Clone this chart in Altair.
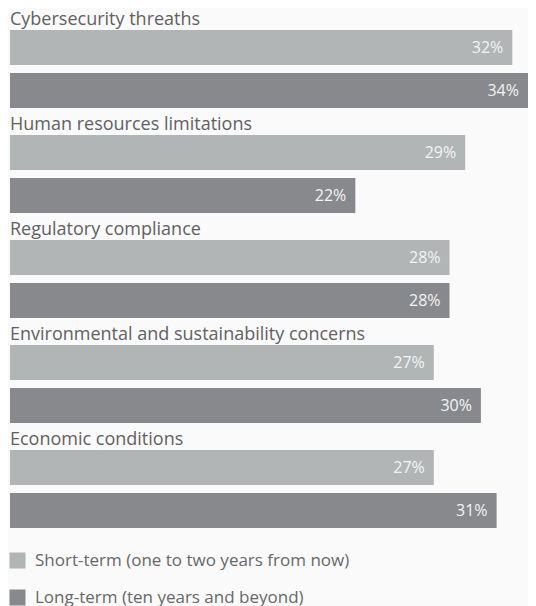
import altair as alt
import pandas as pd

categories = [
    "Cybersecurity threaths",
    "Human resources limitations",
    "Regulatory compliance",
    "Environmental and sustainability concerns",
    "Economic conditions",
]
series = ["Short-term (one to two years from now)", "Long-term (ten years and beyond)"]
short_term = [32, 29, 28, 27, 27]
long_term = [34, 22, 28, 30, 31]
colors = ["#b2b5b6", "#87898c"]

rows = []
for c, s, l in zip(categories, short_term, long_term):
    rows.append({"category": c, "series": series[0], "value": s, "label": f"{s}%"})
    rows.append({"category": c, "series": series[1], "value": l, "label": f"{l}%"})
df = pd.DataFrame(rows)
cat_df = pd.DataFrame({"category": categories})

FONT = "Open Sans"
y_enc = alt.Y("category:N", sort=categories, axis=None,
              scale=alt.Scale(paddingInner=0, paddingOuter=0))
yoff = alt.YOffset("series:N", sort=series,
                   scale=alt.Scale(domain=series, paddingInner=8 / 43,
                                   paddingOuter=27 / 86, align=22 / 27))
x_enc = alt.X("value:Q", axis=None,
              scale=alt.Scale(domain=[0, 33.0], nice=False, zero=True, clamp=True))

bars = alt.Chart(df).mark_bar(cornerRadius=0).encode(
    y=y_enc,
    yOffset=yoff,
    x=x_enc,
    color=alt.Color("series:N", sort=series,
                    scale=alt.Scale(domain=series, range=colors),
                    legend=alt.Legend(title=None, orient="none", legendX=-1, legendY=544,
                                      symbolType="square", symbolSize=256,
                                      symbolStrokeWidth=0, symbolOpacity=1,
                                      labelFont=FONT, labelFontSize=17,
                                      labelColor="#666869", labelOffset=9,
                                      rowPadding=19, padding=0, labelLimit=500)),
)

values = alt.Chart(df).mark_text(align="right", baseline="middle", dx=-9,
                                 font=FONT, fontSize=16, color="#f4f4f4").encode(
    y=y_enc,
    yOffset=yoff,
    x=x_enc,
    text="label:N",
)

cat_labels = alt.Chart(cat_df).mark_text(align="left", baseline="alphabetic", dy=17,
                                         font=FONT, fontSize=18, color="#5f6163").encode(
    y=alt.Y("category:N", sort=categories, axis=None, bandPosition=0,
            scale=alt.Scale(paddingInner=0, paddingOuter=0)),
    x=alt.value(0),
    text="category:N",
)

chart = alt.layer(bars, values, cat_labels).properties(
    width=518, height=525,
    padding={"left": 2, "top": 0, "right": 0, "bottom": 73},
    autosize=alt.AutoSizeParams(type="none"),
    background="#fafafa",
).configure_view(stroke=None)

chart.save("out.html", embed_options={"renderer": "svg", "actions": False})
